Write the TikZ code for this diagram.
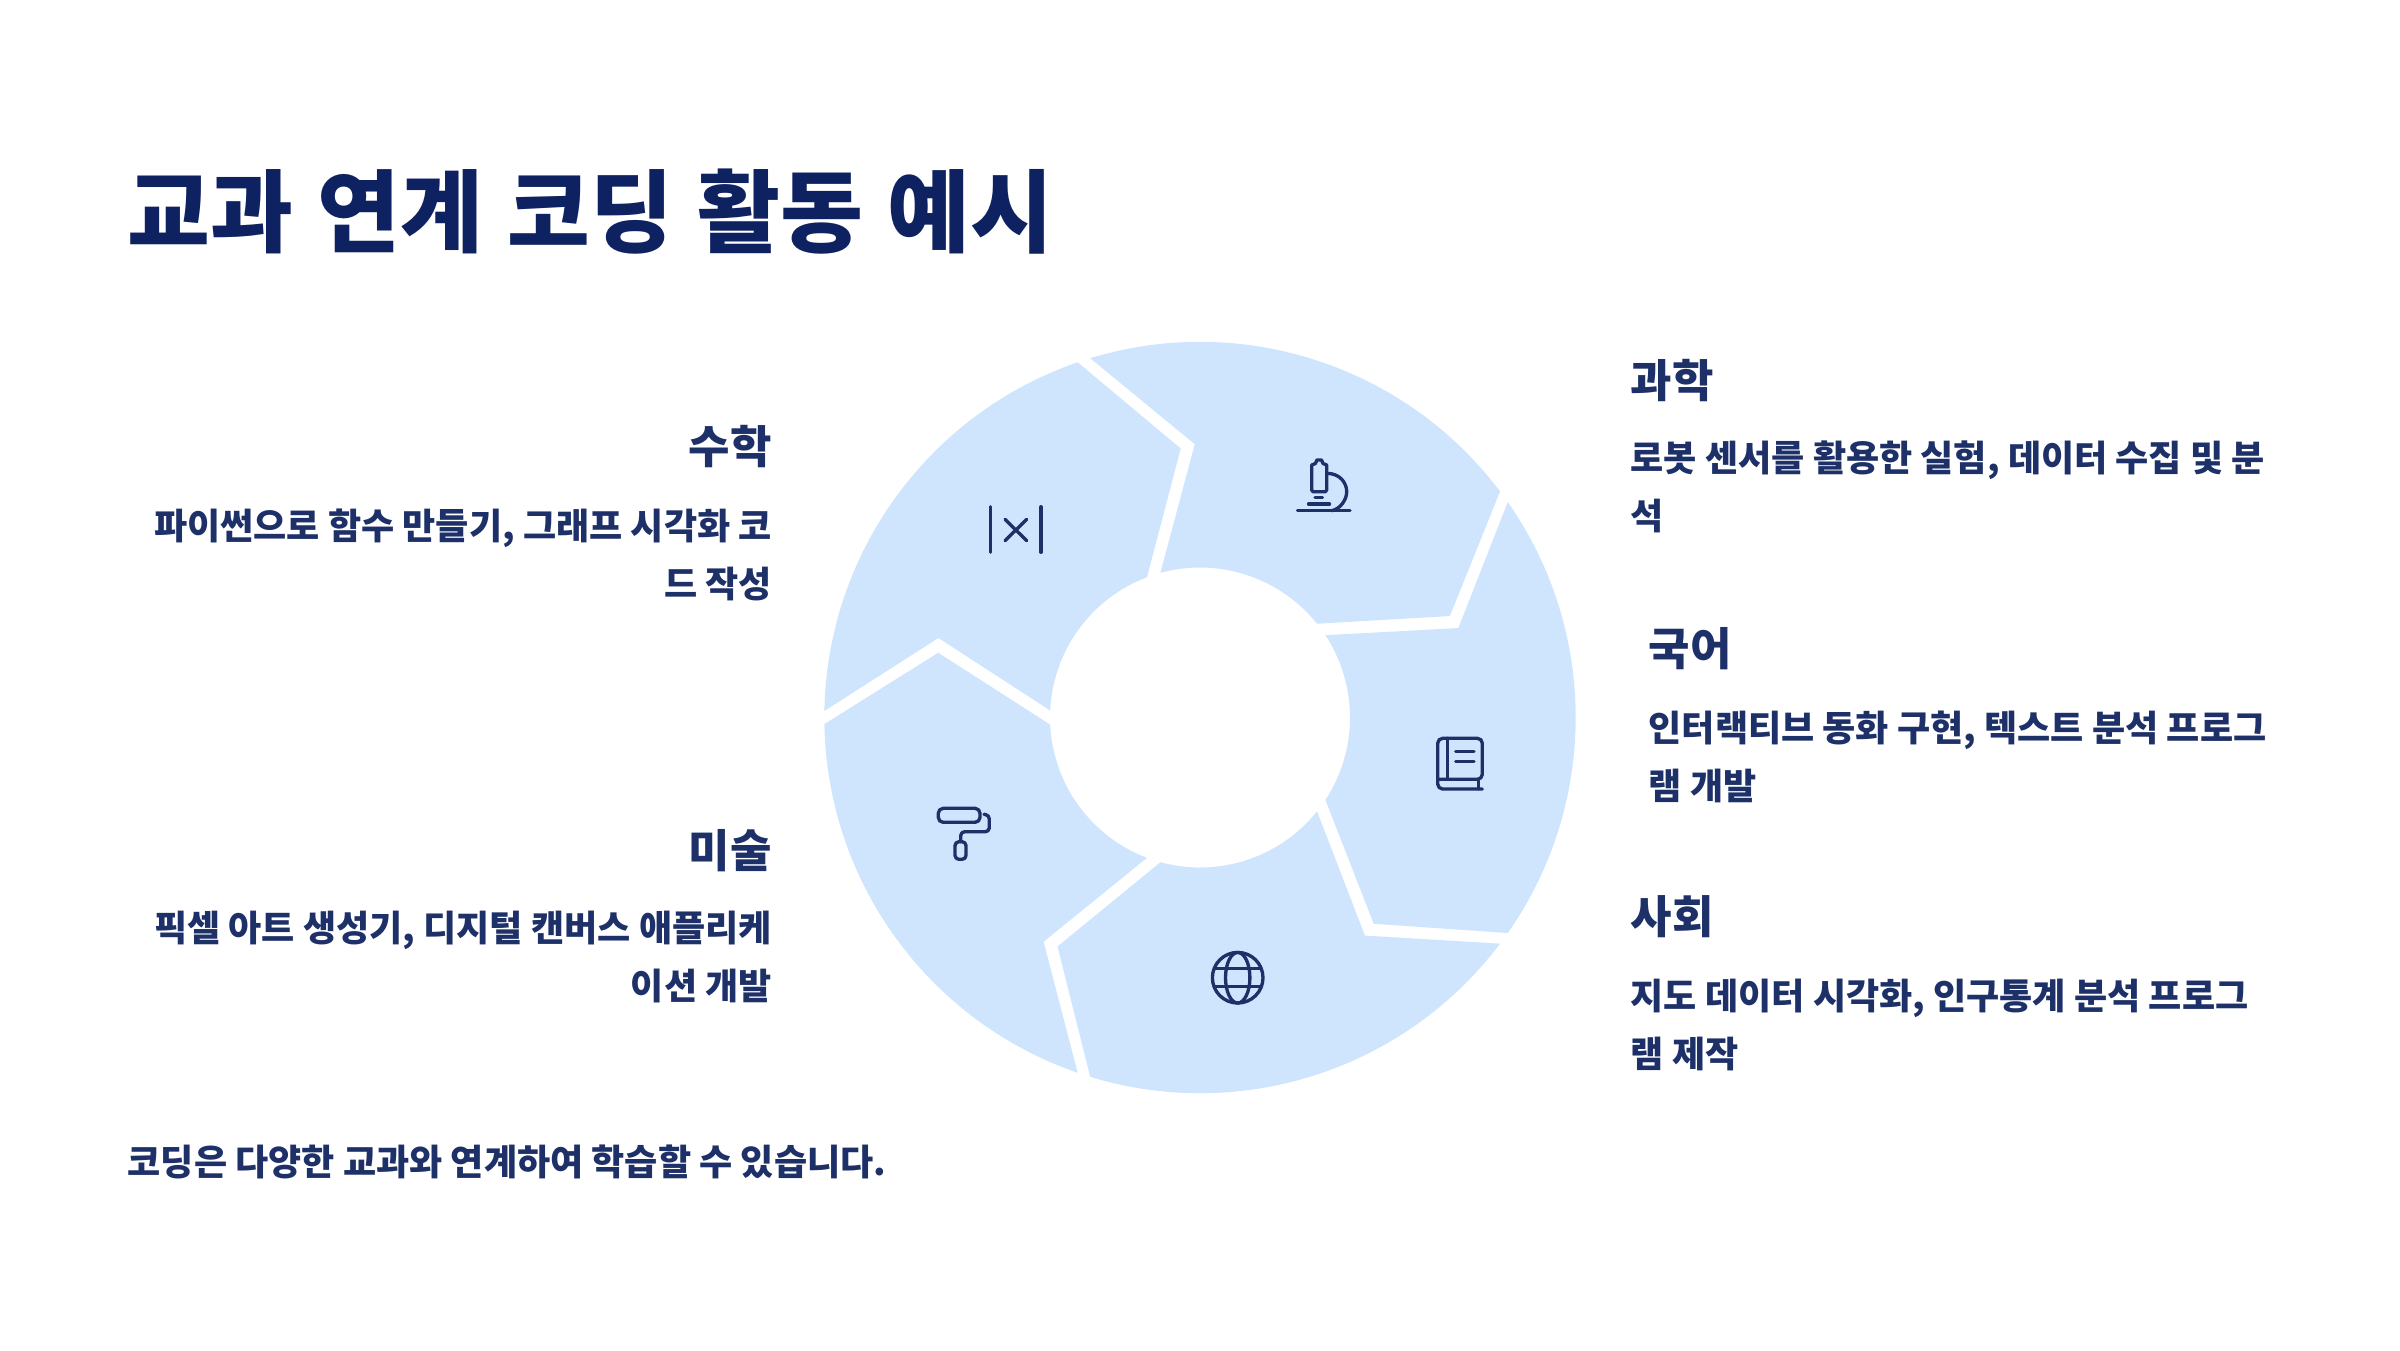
\documentclass[tikz,border=0pt]{standalone}
\usepackage{fontspec}
\setmainfont{Noto Sans CJK KR}
\newfontfamily\titlefamily[WordSpace=1.18]{Noto Sans CJK KR}
\usepackage{xcolor}
\usepackage{tikz}

\definecolor{segblue}{HTML}{CFE5FD}
\definecolor{titleink}{HTML}{0E2160}
\definecolor{ink}{HTML}{1E3068}

\tikzset{
    titletext/.style={anchor=base west, inner sep=0pt, text=titleink, font=\titlefamily\fontsize{25.6}{30}\selectfont\bfseries},
    headleft/.style={anchor=base east, inner sep=0pt, text=ink, font=\fontsize{12.8}{16}\selectfont\bfseries},
    headright/.style={anchor=base west, inner sep=0pt, text=ink, font=\fontsize{12.8}{16}\selectfont\bfseries},
    descleft/.style={anchor=base east, align=right, inner sep=0pt, text=ink, font=\fontsize{10.25}{16.3}\selectfont\bfseries},
    descright/.style={anchor=base west, align=left, inner sep=0pt, text=ink, font=\fontsize{10.25}{16.3}\selectfont\bfseries},
    icon/.style={draw=ink, line width=0.95pt, line cap=round, line join=round},
}

\begin{document}
\begin{tikzpicture}[x=0.01cm, y=-0.01cm]
    \useasboundingbox (0, 0) rectangle (2400, 1350);

    % ring of five chevrons, angles run clockwise here
    \begin{scope}[shift={(1200, 717.5)}]
        \foreach \a in {-72, 0, 72, 144, 216} {
            \fill[segblue] (\a-35:375.7) arc[start angle=\a-35, end angle=\a+35, radius=375.7]
                -- (\a+49.9:269.7) -- (\a+33.3:150)
                arc[start angle=\a+33.3, end angle=\a-33.3, radius=150]
                -- (\a-19.1:273.4) -- cycle;
        }
    \end{scope}

    \node[titletext] at (127, 245) (title) {교과 연계 코딩 활동 예시};

    \node[headright] at (1630, 397) (science) {과학};
    \node[descright] at (1630, 529) (sciencetext) {로봇 센서를 활용한 실험, 데이터 수집 및 분\\석};
    \node[headright] at (1648, 665) (korean) {국어};
    \node[descright] at (1648, 799) (koreantext) {인터랙티브 동화 구현, 텍스트 분석 프로그\\램 개발};
    \node[headright] at (1630, 933) (social) {사회};
    \node[descright] at (1630, 1067) (socialtext) {지도 데이터 시각화, 인구통계 분석 프로그\\램 제작};

    \node[headleft] at (772.5, 463) (math) {수학};
    \node[descleft] at (772.5, 597) (mathtext) {파이썬으로 함수 만들기, 그래프 시각화 코\\드 작성};
    \node[headleft] at (772.5, 867) (art) {미술};
    \node[descleft] at (772.5, 999) (arttext) {픽셀 아트 생성기, 디지털 캔버스 애플리케\\이션 개발};

    \node[descright] at (127, 1175) (note) {코딩은 다양한 교과와 연계하여 학습할 수 있습니다.};

    % microscope
    \draw[icon] (1297.5, 510.7) -- (1350, 510.7);
    \draw[icon] (1308.5, 504) -- (1329.5, 504);
    \draw[icon] (1315, 497.3) -- (1322.5, 497.3);
    \draw[icon] (1313, 491.7) -- (1325.4, 491.7) -- (1326.7, 490) -- (1326.7, 465) -- (1323, 463.5) -- (1321.5, 460) -- (1316.9, 460) -- (1315.4, 463.5) -- (1311.7, 465) -- (1311.7, 490) -- cycle;
    \draw[icon] (1326.7, 473.3) .. controls (1340, 473.3) and (1346.7, 483) .. (1346.7, 491.7) .. controls (1346.7, 500) and (1340, 509) .. (1331.7, 510.7);

    % absolute value
    \draw[icon] (990.7, 506.7) -- (990.7, 552.3);
    \draw[icon] (1041, 506.7) -- (1041, 552.3);
    \draw[icon] (1005, 519.3) -- (1026.7, 540.7);
    \draw[icon] (1026.7, 519.3) -- (1005, 540.7);

    % book
    \draw[icon, rounded corners=1.4pt] (1482.3, 789) -- (1437.7, 789) -- (1437.7, 738.3) -- (1482.3, 738.3) -- (1482.3, 779.3) -- (1437.7, 779.3);
    \draw[icon] (1447.7, 738.3) -- (1447.7, 779.3);
    \draw[icon] (1478.3, 779.3) -- (1478.3, 789);
    \draw[icon] (1455.7, 751.7) -- (1474, 751.7);
    \draw[icon] (1455.7, 761.7) -- (1474, 761.7);

    % globe
    \draw[icon] (1237.7, 977.7) circle[radius=25.3];
    \draw[icon] (1237.7, 977.7) ellipse[x radius=12.2, y radius=25.3];
    \draw[icon] (1214.5, 968.3) -- (1261, 968.3);
    \draw[icon] (1214.5, 986.7) -- (1261, 986.7);

    % paint roller
    \draw[icon, rounded corners=1.4pt] (938.3, 808.3) rectangle (980, 822.3);
    \draw[icon, rounded corners=1.1pt] (955, 841.7) rectangle (966, 859.3);
    \draw[icon, rounded corners=1.1pt] (984, 814.3) -- (989.3, 815) -- (989.3, 831.7) -- (960.7, 831.7) -- (960.7, 841.7);
\end{tikzpicture}
\end{document}
